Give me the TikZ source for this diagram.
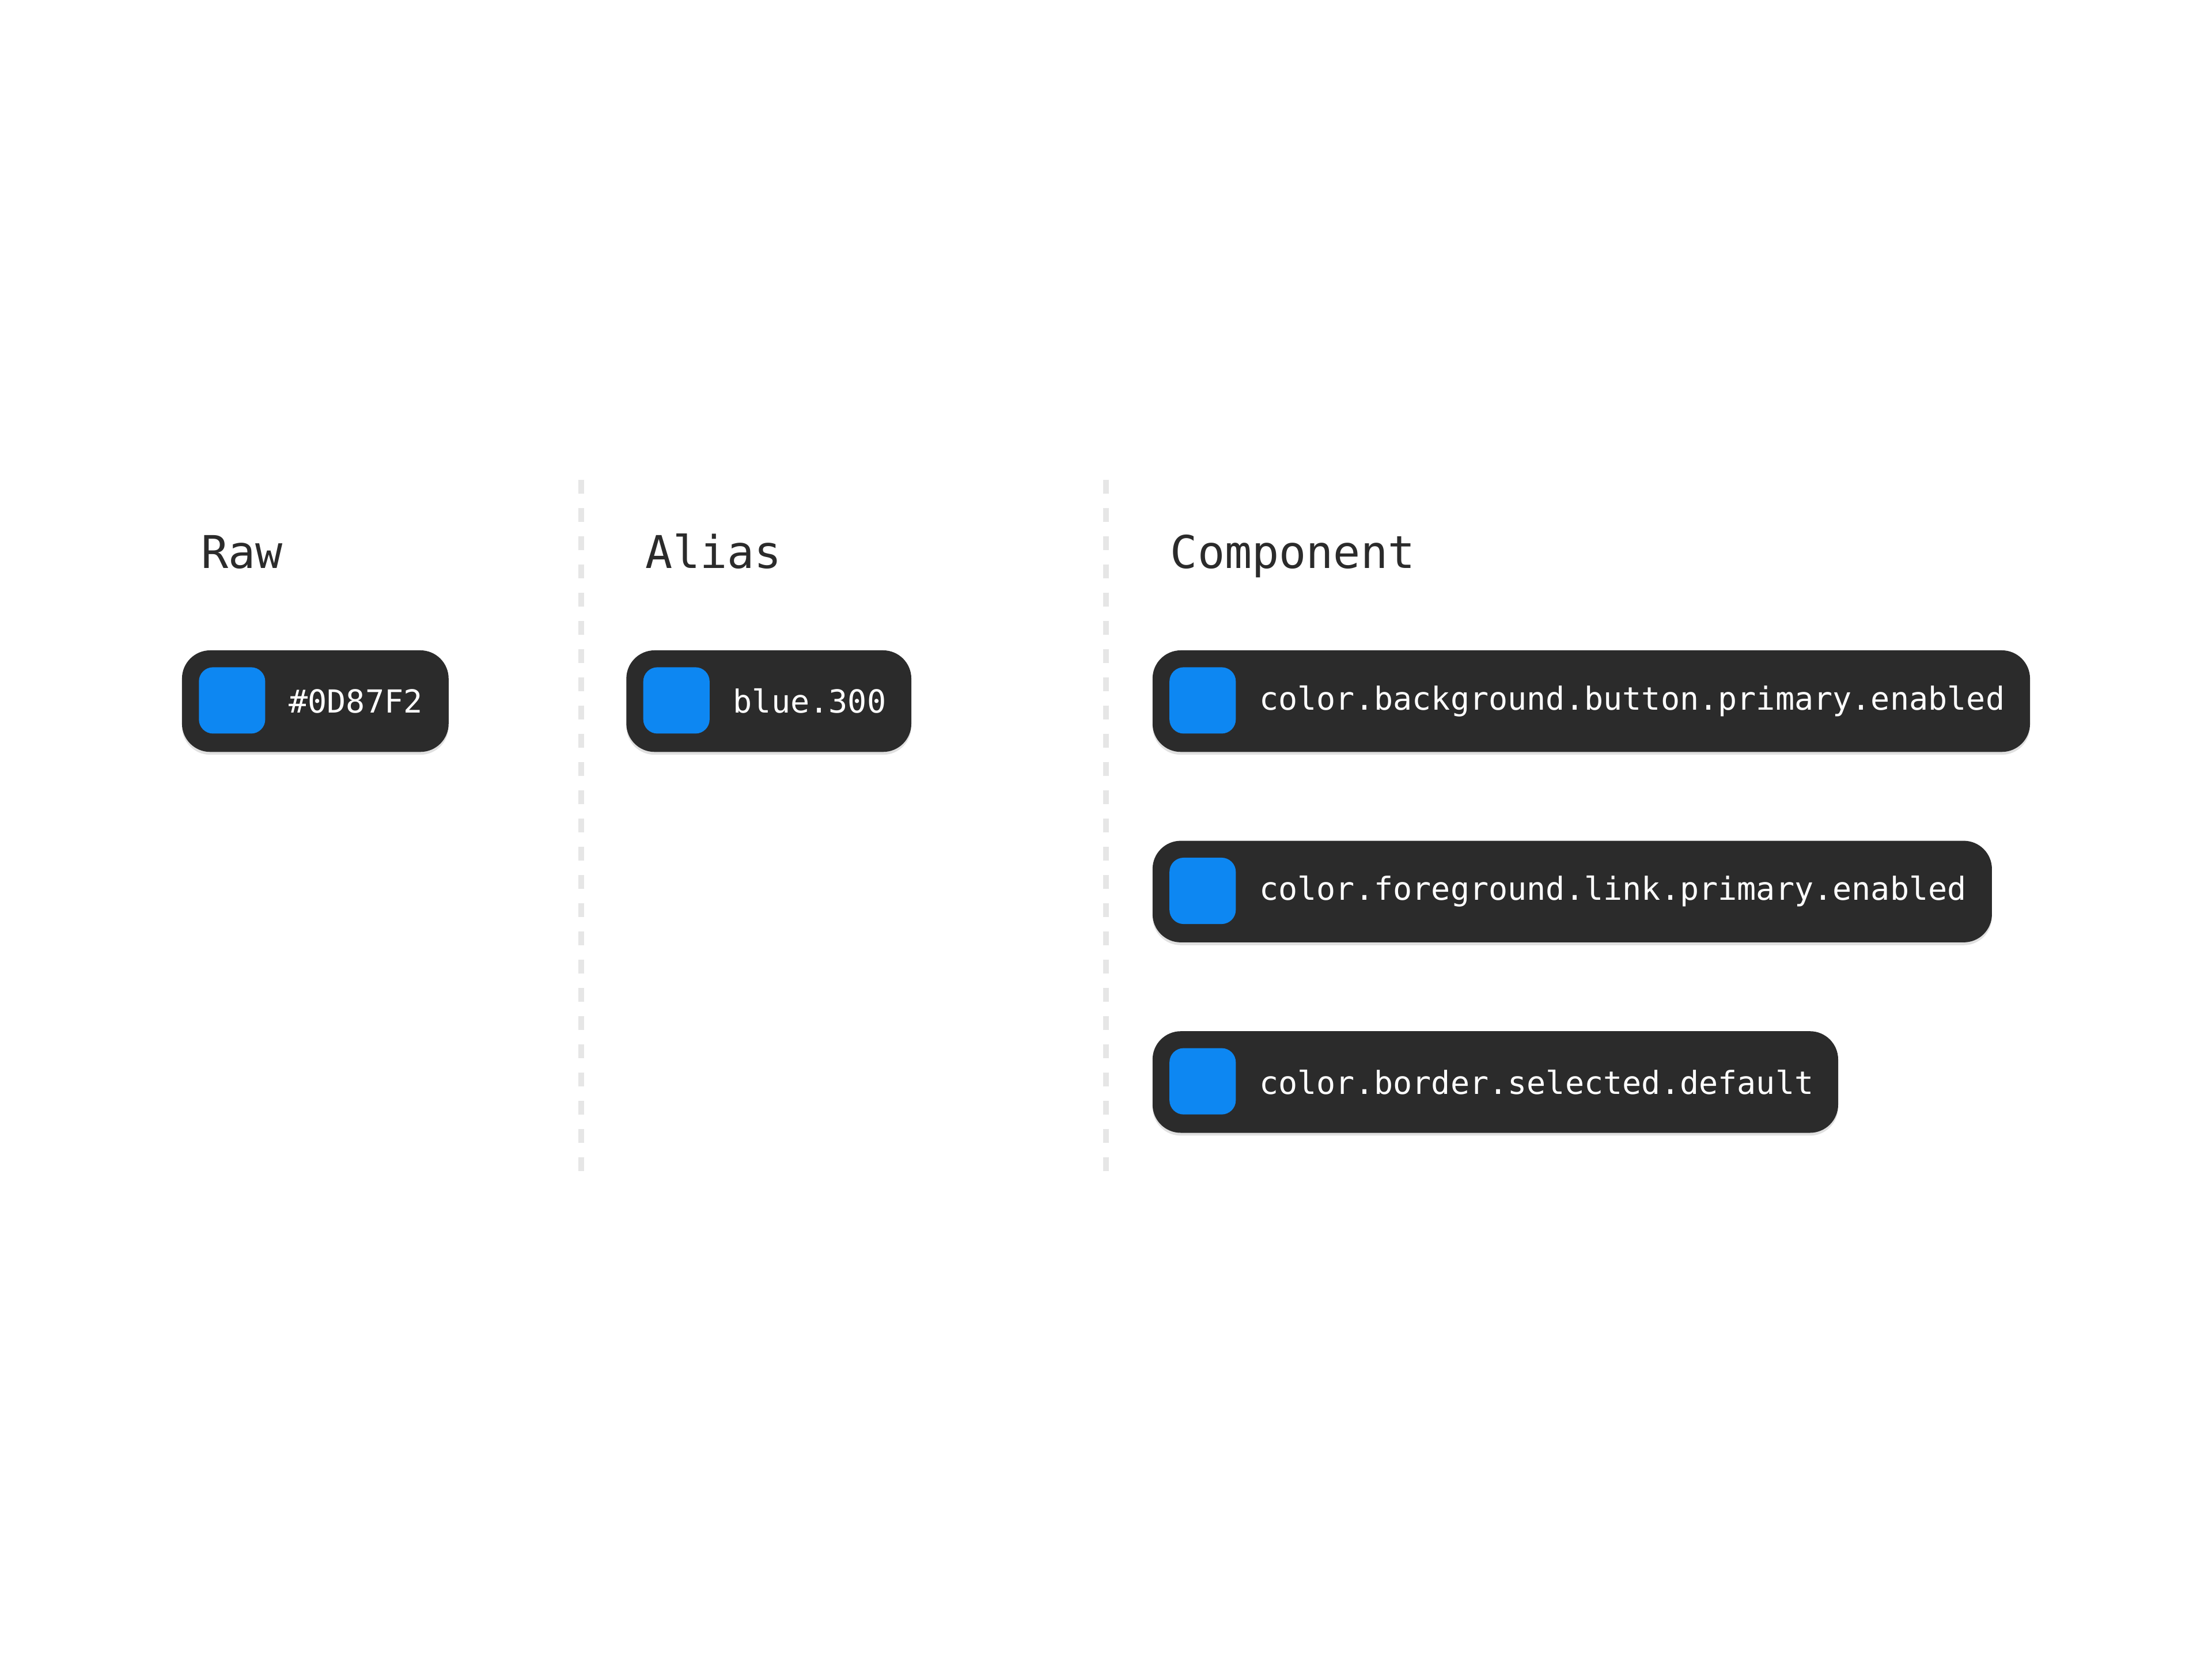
\documentclass[tikz,border=0pt]{standalone}
\usepackage{fontspec}
\setmonofont{DejaVu Sans Mono}
\definecolor{pill}{HTML}{2B2B2B}
\definecolor{sw}{HTML}{0D87F2}
\definecolor{dash}{HTML}{E6E6E6}
\definecolor{head}{HTML}{2B2B2B}
\begin{document}
\begin{tikzpicture}[x=0.01cm,y=-0.01cm,
  pillbg/.style={fill=pill,rounded corners=0.2cm},
  swatch/.style={fill=sw,rounded corners=0.1cm},
  lbl/.style={anchor=west,inner sep=0,text=white,font=\ttfamily\fontsize{6.4pt}{7pt}\selectfont},
  hdr/.style={anchor=base west,inner sep=0,text=head,font=\ttfamily\fontsize{9.1pt}{10pt}\selectfont},
  sep/.style={draw=dash,line width=0.04cm,dash pattern=on 0.1cm off 0.1cm}]
\useasboundingbox (0,0) rectangle (1568,1176);
\fill[white] (0,0) rectangle (1568,1176);
\coordinate (s1a) at (412,340); \coordinate (s1b) at (412,835);
\coordinate (s2a) at (784,340); \coordinate (s2b) at (784,835);
\draw[sep] (s1a) -- (s1b);
\draw[sep] (s2a) -- (s2b);
\node[hdr] (h1) at (142,403) {Raw};
\node[hdr] (h2) at (457,403) {Alias};
\node[hdr] (h3) at (829,403) {Component};
% pills
\foreach \n/\xa/\xb/\y/\t in {p1/129/318/461/\#0D87F2, p2/444/646/461/blue.300,
  p3/817/1439/461/color.background.button.primary.enabled,
  p4/817/1412/596/color.foreground.link.primary.enabled,
  p5/817/1303/731/color.border.selected.default}{
  \fill[black!12,rounded corners=0.2cm] (\xa,\y+2) rectangle (\xb,\y+74);
  \path[pillbg] (\xa,\y) rectangle (\xb,\y+72);
  \path[swatch] (\xa+12,\y+12) rectangle (\xa+59,\y+59);
  \node[lbl] (\n) at (\xa+75,\y+36) {\t};
}
\end{tikzpicture}
\end{document}
